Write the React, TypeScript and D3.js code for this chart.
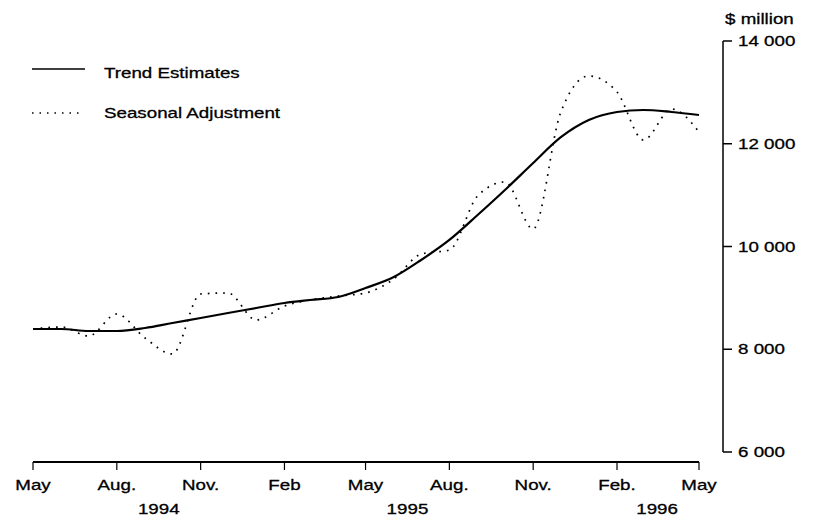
import React from 'react';
import * as d3 from 'd3';

// monthly values, May 1994 .. May 1996 ($ million)
const months = d3.timeMonths(new Date(1994, 4, 1), new Date(1996, 4, 2));
const trendValues = [
  8394, 8394, 8355, 8355, 8414, 8511, 8608, 8706, 8803, 8900, 8959, 9017, 9192,
  9406, 9737, 10127, 10613, 11100, 11625, 12122, 12462, 12618, 12657, 12618, 12560,
];
const seasonalValues = [
  8394, 8433, 8258, 8686, 8219, 7908, 9075, 9095, 8569, 8842, 8959, 9037, 9095,
  9367, 9854, 9932, 10983, 11256, 10341, 12599, 13319, 13007, 12073, 12676, 12229,
];
const tickLabels = ['May', 'Aug.', 'Nov.', 'Feb', 'May', 'Aug.', 'Nov.', 'Feb.', 'May'];
const yearLabels = ['1994', '1995', '1996'];
const yearDates = [new Date(1994, 8, 16), new Date(1995, 5, 16), new Date(1996, 2, 16)];
const yTicks = [6000, 8000, 10000, 12000, 14000];

const W = 815;
const H = 521;
const FONT = '"Liberation Sans", Arial, sans-serif';

const fmt = (v: number) => d3.format(',')(v).replace(',', ' ');

// scanned look: slightly wide, slightly heavy type
const Label = ({ x, y, anchor, children }: any) => (
  <text
    transform={`translate(${x},${y}) scale(1.25,1)`}
    textAnchor={anchor}
    fontFamily={FONT}
    fontSize={15}
    fill="#000"
    stroke="#000"
    strokeWidth={0.3}
  >
    {children}
  </text>
);

const App = () => {
  const x = d3
    .scaleTime()
    .domain([months[0], months[months.length - 1]])
    .range([33, 699]);
  const y = d3.scaleLinear().domain([6000, 14000]).range([452, 41]);

  const line = d3
    .line<number>()
    .x((d, i) => x(months[i]))
    .y(d => y(d))
    .curve(d3.curveMonotoneX);

  const ticks = months.filter((d, i) => i % 3 === 0);
  const axisY = 462;
  const axisX = 723;

  return (
    <svg
      width={W}
      height={H}
      style={{ position: 'absolute', left: 0, top: 0, background: '#fff' }}
    >
      <rect width={W} height={H} fill="#fff" />

      {/* legend */}
      <line x1={32} x2={85} y1={69} y2={69} stroke="#000" strokeWidth={1.5} />
      <Label x={104} y={78} anchor="start">Trend Estimates</Label>
      <line
        x1={32}
        x2={82}
        y1={113}
        y2={113}
        stroke="#000"
        strokeWidth={1.5}
        strokeDasharray="1.5 6"
      />
      <Label x={104} y={118} anchor="start">Seasonal Adjustment</Label>

      {/* series */}
      <path
        d={line(seasonalValues) || ''}
        fill="none"
        stroke="#000"
        strokeWidth={1.7}
        strokeDasharray="1.7 6"
      />
      <path d={line(trendValues) || ''} fill="none" stroke="#000" strokeWidth={2.2} />

      {/* x axis */}
      <line x1={x(months[0])} x2={x(months[months.length - 1])} y1={axisY} y2={axisY} stroke="#000" strokeWidth={2} />
      {ticks.map((d, i) => (
        <g key={i}>
          <line x1={x(d)} x2={x(d)} y1={axisY} y2={axisY + 8} stroke="#000" strokeWidth={1.2} />
          <Label x={x(d)} y={490} anchor="middle">{tickLabels[i]}</Label>
        </g>
      ))}
      {yearLabels.map((t, i) => (
        <Label key={t} x={x(yearDates[i])} y={514} anchor="middle">{t}</Label>
      ))}

      {/* y axis */}
      <line x1={axisX} x2={axisX} y1={y(14000)} y2={y(6000)} stroke="#000" strokeWidth={1.5} />
      {yTicks.map(v => (
        <g key={v}>
          <line x1={axisX} x2={axisX + 9} y1={y(v)} y2={y(v)} stroke="#000" strokeWidth={1.5} />
          <Label x={738} y={y(v) + 5} anchor="start">{fmt(v)}</Label>
        </g>
      ))}
      <Label x={725} y={24} anchor="start">$ million</Label>
    </svg>
  );
};

export default App;
